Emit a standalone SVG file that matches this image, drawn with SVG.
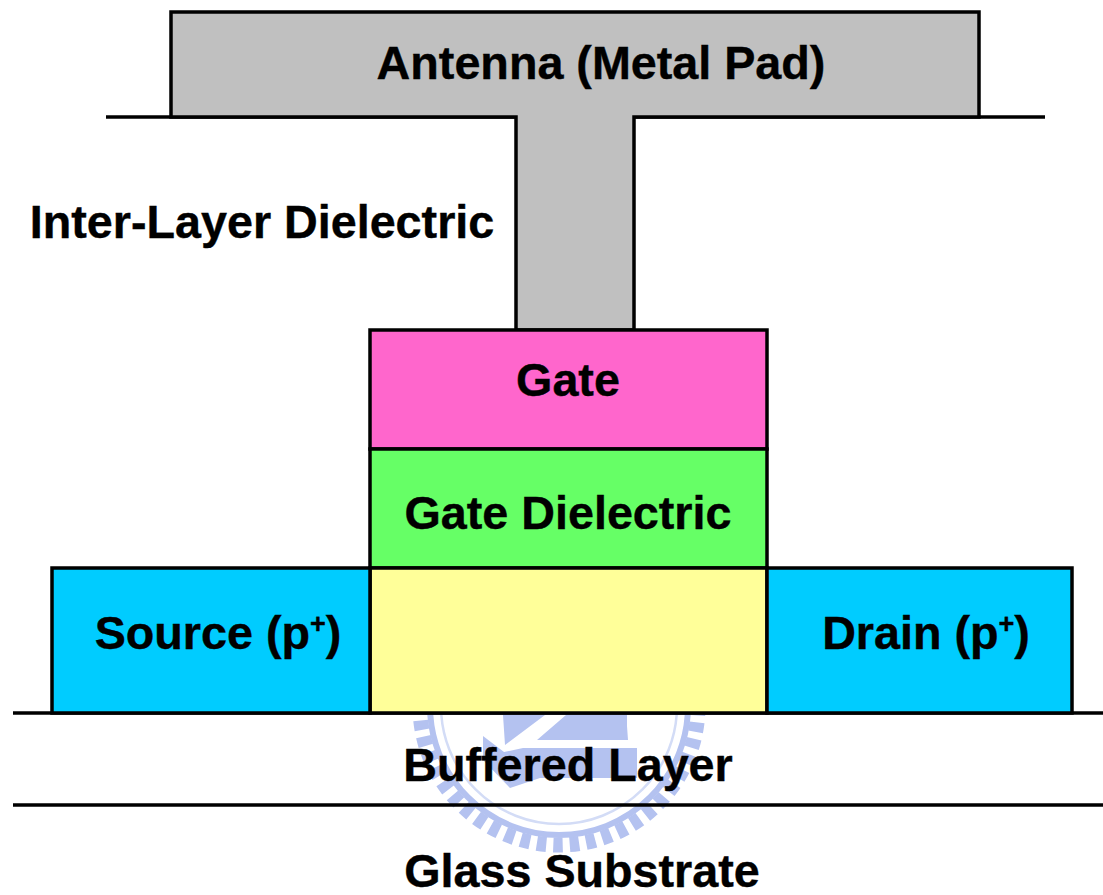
<svg xmlns="http://www.w3.org/2000/svg" width="1103" height="895" viewBox="0 0 1103 895">
<style>
.l{fill:none;stroke:#000;stroke-width:3.5}
.b{stroke:#000;stroke-width:3.5}
text{font-family:"Liberation Sans",Arial,sans-serif;font-weight:bold;font-size:46.7px;fill:#000;stroke:#000;stroke-width:.4;text-anchor:middle}
.wm{fill:#b4c2f0}
</style>
<defs><clipPath id="c"><rect x="0" y="715" width="1103" height="180"/></clipPath></defs>
<rect width="1103" height="895" fill="#fff"/>
<g id="watermark" clip-path="url(#c)">
<circle cx="559" cy="706" r="139" fill="none" stroke="#b4c2f0" stroke-width="15" stroke-dasharray="9.5 7"/>
<circle cx="559" cy="706" r="129" fill="none" stroke="#b4c2f0" stroke-width="6"/>
<circle cx="559" cy="706" r="118" fill="none" stroke="#d3dcf6" stroke-width="2.5"/>
<path class="wm" d="M503 715H627V726L628 740H537L566 715H545L505 745Z"/>
<path class="wm" d="M483 736L504 752L523 748H637V778H540L510 788L483 760Z"/>
</g>
<g id="connectors">
<line class="l" x1="106" y1="117" x2="1045" y2="117"/>
<line class="l" x1="13" y1="713" x2="1103" y2="713"/>
<line class="l" x1="13" y1="805" x2="1103" y2="805"/>
</g>
<g id="antenna">
<path class="b" fill="#c0c0c0" d="M171 12H979V117H634V330H516V117H171Z"/>
<text x="601" y="79">Antenna (Metal Pad)</text>
</g>
<g id="ild"><text x="262" y="238">Inter-Layer Dielectric</text></g>
<g id="gate">
<rect class="b" x="370" y="330" width="397" height="119" fill="#ff66cc"/>
<text x="568" y="396">Gate</text>
</g>
<g id="gate-dielectric">
<rect class="b" x="370" y="449" width="397" height="119" fill="#66ff66"/>
<text x="568" y="529">Gate Dielectric</text>
</g>
<g id="channel"><rect class="b" x="370" y="568" width="397" height="145" fill="#ffff99"/></g>
<g id="source">
<rect class="b" x="52" y="568" width="318" height="145" fill="#00ccff"/>
<text x="218" y="649">Source (p<tspan font-size="27" dy="-16">+</tspan><tspan dy="16">)</tspan></text>
</g>
<g id="drain">
<rect class="b" x="767" y="568" width="305" height="145" fill="#00ccff"/>
<text x="926" y="649">Drain (p<tspan font-size="27" dy="-16">+</tspan><tspan dy="16">)</tspan></text>
</g>
<g id="buffered-layer"><text x="568" y="781">Buffered Layer</text></g>
<g id="glass-substrate"><text x="582" y="887">Glass Substrate</text></g>
</svg>
